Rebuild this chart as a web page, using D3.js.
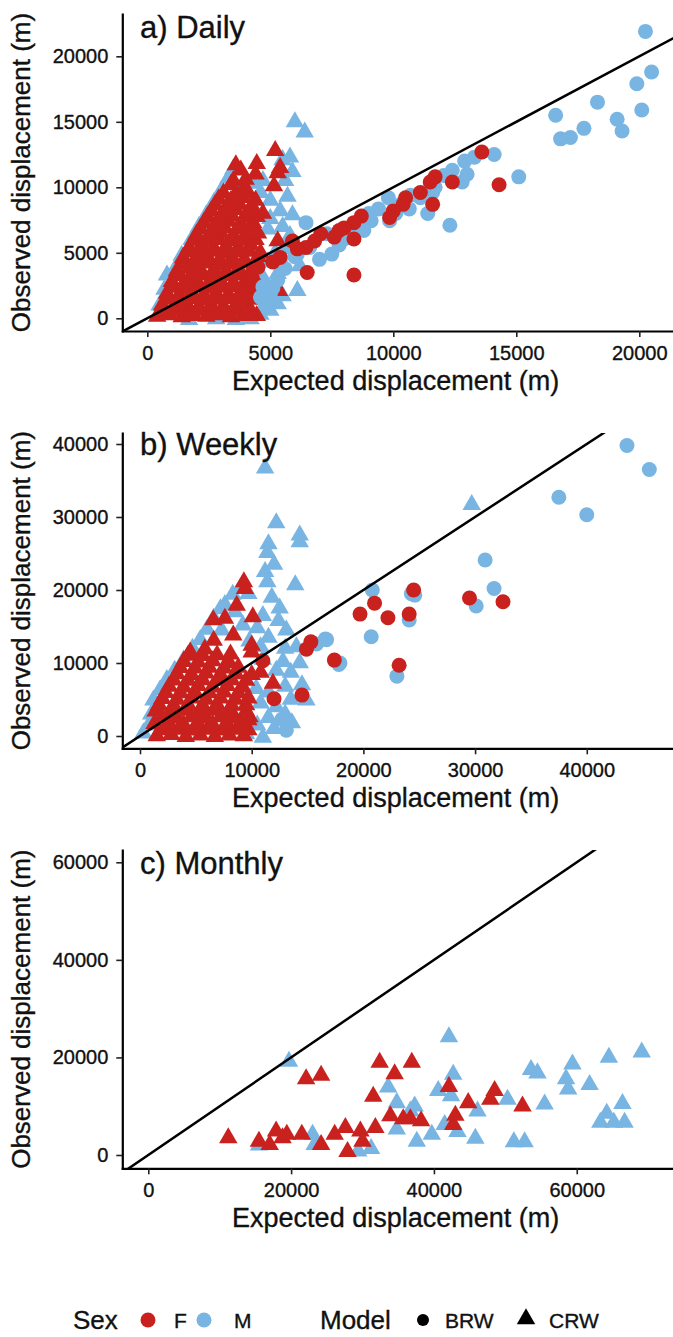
<!DOCTYPE html>
<html lang="en">
<head>
<meta charset="UTF-8">
<title>Observed vs expected displacement</title>
<script src="https://cdnjs.cloudflare.com/ajax/libs/d3/7.8.5/d3.min.js"></script>
<style>
  body { margin: 0; background: #fff; }
  text { font-family: "Liberation Sans", Arial, Helvetica, sans-serif; fill: #111; stroke: #111; stroke-width: 0.35px; }
</style>
</head>
<body>
<script>
// ---- tick labels ----
var dailyTicks = [0, 5000, 10000, 15000, 20000];
var weeklyTicks = [0, 10000, 20000, 30000, 40000];
var monthlyTicks = [0, 20000, 40000, 60000];

// ---- a) Daily, [expected, observed] in metres ----
var dailyF_BRW = [[13600,12700],[14300,10200],[12400,10400],[11700,10800],[11600,8700],[11100,9600],[10500,9200],
  [10400,8700],[10000,8200],[9850,7700],[8700,7800],[8400,7300],[8000,6900],[7800,6700],[8400,6050],[8400,3300],
  [7050,6450],[6800,5900],[6450,5400],[6100,5300],[6500,3500],[5400,4650],[5100,4300],[4500,3900],[5900,5900],
  [11500,10400],[7600,6200]];
var dailyM_BRW = [[20250,21900],[20500,18800],[19900,17900],[20100,15900],[19100,15200],[19300,14300],[18300,16500],
  [17750,14500],[17200,13800],[16800,13700],[16600,15500],[15100,10800],[14100,12500],[13300,12300],[12900,12000],
  [12800,10400],[13000,11000],[12300,7100],[12400,11300],[12050,10900],[11700,10000],[11400,8000],[11100,9200],
  [10650,8350],[10300,8700],[9850,7450],[9800,9200],[9400,8350],[9100,7450],[8800,6700],[8400,6300],[8000,6050],
  [7300,6450],[7500,4900],[7000,4500],[6450,7300],[6100,4900],[5400,4400],[6600,5400],[4700,2400],[5000,1800],
  [4800,1000],[5300,2900],[5600,3800],[6000,4700],[5100,2300],[4600,1600],[7800,5600],[8600,7200],[9000,8000],
  [10100,8000],[10700,9400],[11600,9600]];
var dailyF_CRW = [[400,150],[900,250],[1400,100],[1900,200],[2400,150],[2900,250],[3400,100],[3900,200],[4450,200],
  [650,550],[1150,600],[1650,500],[2150,600],[2650,550],[3150,500],[3650,600],[4150,550],
  [600,1000],[1100,900],[1600,1100],[2100,900],[2600,1000],[3100,900],[3600,1050],[4100,950],
  [850,1450],[1350,1400],[1850,1500],[2350,1400],[2850,1450],[3350,1500],[3850,1400],[4350,1450],
  [800,1900],[1300,1800],[1800,2000],[2300,1800],[2800,1900],[3300,1800],[3800,2000],[4300,1850],[5350,2100],
  [1050,2350],[1550,2300],[2050,2400],[2550,2300],[3050,2350],[3550,2400],[4050,2300],[4500,2350],
  [1000,2800],[1500,2700],[2000,2900],[2500,2700],[3000,2800],[3500,2700],[4000,2900],[4450,2700],
  [1250,3250],[1750,3200],[2250,3300],[2750,3200],[3250,3250],[3750,3300],[4250,3200],
  [1200,3600],[1700,3800],[2200,3600],[2700,3700],[3200,3600],[3700,3800],[4200,3600],
  [1450,4150],[1950,4100],[2450,4200],[2950,4100],[3450,4150],[3950,4200],[4400,4100],
  [1450,4600],[1950,4500],[2450,4700],[2950,4500],[3450,4600],[3950,4500],[4500,4700],
  [1650,5050],[2150,5000],[2650,5100],[3150,5000],[3650,5050],[4150,5100],[4600,5000],
  [1700,5400],[2200,5600],[2700,5400],[3200,5500],[3700,5400],[4200,5600],[5300,5900],
  [1900,5950],[2400,5900],[2900,6000],[3400,5900],[3900,5950],[4400,6000],
  [2000,6400],[2500,6300],[3000,6500],[3500,6300],[4000,6400],[4500,6500],
  [2150,6850],[2650,6800],[3150,6900],[3650,6800],[4150,6850],
  [2300,7300],[2800,7200],[3300,7400],[3800,7200],[4300,7300],
  [2450,7750],[2950,7700],[3450,7800],[3950,7700],[4450,7750],
  [2600,8200],[3100,8100],[3600,8300],[4100,8100],[4700,8000],
  [2750,8650],[3250,8600],[3750,8700],[4250,8600],
  [2900,9100],[3400,9000],[3900,9200],[4400,9000],
  [3100,9550],[3600,9500],[4100,9600],
  [3400,10200],[3900,9900],[5150,10100],
  [3500,10500],[4000,10600],
  [3800,11300],[4400,11000],[5300,11100],[3600,11700],
  [4450,11800],[5400,11500],[5200,12800]];
var dailyM_CRW = [[500,1000],[700,2200],[800,3300],[1200,4000],[1400,4800],[1800,6000],[2100,7000],[2400,7900],
  [2700,8800],[3000,9700],[3300,10700],[3500,11400],[3900,10300],[4300,10300],[4700,10500],[4600,9600],[5000,9000],
  [5700,9300],[5600,10500],[5800,12300],[5500,12100],[6000,15000],[6400,14200],[5900,11200],[5400,8200],[5900,7900],
  [5000,7600],[5500,7000],[4900,6800],[5800,6300],[5200,5000],[5600,5300],[4900,4300],[5300,3400],[4700,3100],
  [6100,2100],[5000,600],[4800,1500],[5300,1100],[4600,300],[1700,-100],[2800,-50],[3600,-100],[4200,-50],
  [5500,1700],[6200,4000]];

// ---- b) Weekly ----
var weeklyF_BRW = [[24500,20000],[21000,18200],[19700,16700],[22200,16200],[24100,16700],[29500,18900],[32500,18400],
  [23200,9700],[17400,10400],[15300,12900],[14900,11900],[14500,5600],[12000,5100],[11000,10300]];
var weeklyM_BRW = [[43600,39800],[45600,36500],[37500,32700],[40000,30300],[30900,24100],[31700,20200],[30100,17800],
  [24300,19500],[24100,15900],[20800,20000],[20700,13600],[23000,8200],[17800,9800],[16600,13300],[15800,12600],
  [13100,800],[12700,2300],[16700,13200],[17900,10000],[24600,19300]];
var weeklyF_CRW = [[1500,0],[2800,200],[4100,-100],[5400,100],[6700,-100],[8000,100],[9300,0],
  [2150,850],[3450,900],[4750,800],[6050,900],[7350,800],[8650,900],[9700,850],
  [1300,1700],[2600,1800],[3900,1600],[5200,1800],[6500,1600],[7800,1800],[9100,1700],
  [2000,2550],[3300,2500],[4600,2600],[5900,2500],[7200,2600],[8500,2500],[9800,2600],
  [1400,3400],[2700,3300],[4000,3500],[5300,3300],[6600,3500],[7900,3300],[9500,3400],
  [1700,4250],[3000,4200],[4300,4300],[5600,4200],[6900,4300],[8200,4200],[9500,4250],
  [2000,5100],[3300,5000],[4600,5200],[5900,5000],[7200,5200],[8500,5000],[9700,5200],
  [2300,5950],[3600,5900],[4900,6000],[6200,5900],[7500,6000],[8800,5900],
  [2600,6800],[3900,6700],[5200,6900],[6500,6700],[7800,6900],[9200,6700],
  [3000,7650],[4300,7600],[5600,7700],[6900,7600],[8200,7700],[9500,7600],
  [3300,8500],[4600,8400],[5900,8600],[7200,8400],[8600,8500],[10800,8700],
  [3600,9350],[4900,9300],[6200,9400],[7500,9300],[8800,9400],
  [3900,10200],[5200,10100],[6500,10300],[8000,10000],[10000,11500],
  [4300,11050],[5600,11000],[6900,11100],
  [4500,11500],[5800,11900],[8100,11200],
  [6600,13100],[8350,13800],[6560,15900],[7600,16100],[10100,16300],[8660,17900],[9400,20200],[9300,21100],
  [11900,7200],[9700,2200],[10000,8400],[10000,12400]];
var weeklyM_CRW = [[300,400],[800,1500],[1000,3000],[1200,4900],[1800,6300],[2400,7700],[3100,9000],[3900,10400],
  [4700,12000],[5400,13200],[6000,14600],[6600,16100],[7200,17400],[7600,18000],[8300,19400],[9000,20300],
  [8500,17000],[7300,14500],[9200,15200],[9700,19500],
  [11200,36700],[12200,29200],[14300,27500],[11500,26300],[11400,25100],[11200,22500],[11400,21100],[13900,20700],
  [12000,23500],[11800,19000],[12500,17500],[11000,16500],[13100,14500],[12400,15800],[14000,12200],[13000,12000],
  [11500,13500],[10500,14800],[14300,10000],[12800,10200],[11000,10500],[10800,12200],[13500,8700],[12200,9000],
  [14500,7000],[13000,6800],[11500,6000],[14900,4900],[13500,5000],[12200,4000],[10800,4500],[13000,3000],
  [11500,2500],[10500,1500],[12000,1000],[13600,1800],[10400,6500],[9800,13000],[9500,300],[11000,-200],
  [29700,31700],[14300,26600]];

// ---- c) Monthly (CRW only) ----
var monthlyF_CRW = [[11200,3500],[15500,2800],[17000,2100],[17900,4900],[18800,3500],[19400,4200],[21500,4200],
  [22100,15600],[24200,16300],[24200,2100],[26100,4200],[27600,5600],[27900,700],[29700,4900],[30000,2800],
  [31800,5600],[31500,12000],[32400,19000],[33900,8000],[34500,16600],[35700,7400],[36900,19000],[36700,7400],
  [38200,7000],[42100,14000],[42700,6200],[43000,8100],[44800,10700],[47900,11400],[48500,13200],[52400,10000]];
var monthlyM_CRW = [[19700,19200],[15500,2000],[23000,4200],[23300,2100],[29400,800],[31200,1300],[33600,13900],
  [34800,10700],[34800,5300],[37300,10000],[37600,2800],[39700,4200],[41500,6200],[42100,24200],[42700,16500],
  [42400,12100],[43300,4800],[45800,3400],[46100,9000],[50300,11400],[51200,2700],[52700,2700],[53600,17500],
  [54500,16800],[55500,10400],[58500,15600],[58800,13500],[59400,18600],[61800,14400],[63300,6700],[64500,20000],
  [64200,8500],[65200,6700],[66400,10500],[66700,6700],[69100,21100],[40600,13200],[36700,9000]];

var RED = "#c8211e", BLUE = "#78b5e3";
var W = 673, H = 1337;

var svg = d3.select("body").append("svg")
    .attr("width", W)
    .attr("height", H)
    .style("background", "#fff");

var panels = [
  { id: "a", title: "a) Daily", titleY: 38, box: {l: 122.3, r: 673, t: 14, b: 331},
    xDom: [-1016, 21370], yDom: [-970, 23230], xTicks: dailyTicks, yTicks: dailyTicks,
    layers: [[dailyM_CRW, BLUE, "tri"], [dailyF_CRW, RED, "tri"], [dailyM_BRW, BLUE, "circ"], [dailyF_BRW, RED, "circ"]] },
  { id: "b", title: "b) Weekly", titleY: 455, box: {l: 122.3, r: 673, t: 433, b: 748.3},
    xDom: [-1585, 47720], yDom: [-1685, 41507], xTicks: weeklyTicks, yTicks: weeklyTicks,
    layers: [[weeklyM_CRW, BLUE, "tri"], [weeklyF_CRW, RED, "tri"], [weeklyM_BRW, BLUE, "circ"], [weeklyF_BRW, RED, "circ"]] },
  { id: "c", title: "c) Monthly", titleY: 874, box: {l: 122.3, r: 673, t: 850, b: 1168.3},
    xDom: [-3640, 73480], yDom: [-2727, 62520], xTicks: monthlyTicks, yTicks: monthlyTicks,
    layers: [[monthlyM_CRW, BLUE, "tri"], [monthlyF_CRW, RED, "tri"]] }
];

var tri = d3.symbol().type(d3.symbolTriangle).size(148);

panels.forEach(function(p) {
  var b = p.box;
  var x = d3.scaleLinear().domain(p.xDom).range([b.l, b.r]);
  var y = d3.scaleLinear().domain(p.yDom).range([b.b, b.t]);

  // clip region = panel
  svg.append("clipPath").attr("id", "clip-" + p.id)
    .append("rect")
    .attr("x", b.l).attr("y", b.t)
    .attr("width", b.r - b.l).attr("height", b.b - b.t);

  var g = svg.append("g").attr("clip-path", "url(#clip-" + p.id + ")");

  p.layers.forEach(function(layer) {
    var pts = layer[0], col = layer[1], shape = layer[2];
    if (shape === "circ") {
      g.selectAll(null).data(pts).enter().append("circle")
        .attr("cx", function(d) { return x(d[0]); })
        .attr("cy", function(d) { return y(d[1]); })
        .attr("r", 7.5)
        .attr("fill", col);
    } else {
      g.selectAll(null).data(pts).enter().append("path")
        .attr("d", tri)
        .attr("transform", function(d) { return "translate(" + x(d[0]) + "," + y(d[1]) + ")"; })
        .attr("fill", col);
    }
  });

  // 1:1 line
  var lo = Math.min(p.xDom[0], p.yDom[0]), hi = Math.max(p.xDom[1], p.yDom[1]);
  g.append("line")
    .attr("x1", x(lo)).attr("y1", y(lo))
    .attr("x2", x(hi)).attr("y2", y(hi))
    .attr("stroke", "#000").attr("stroke-width", 2.5);

  // axes
  var xAxis = d3.axisBottom(x).tickValues(p.xTicks).tickSize(6).tickSizeOuter(0).tickPadding(9).tickFormat(d3.format("d"));
  var yAxis = d3.axisLeft(y).tickValues(p.yTicks).tickSize(6).tickSizeOuter(0).tickPadding(8).tickFormat(d3.format("d"));

  var gx = svg.append("g").attr("transform", "translate(0," + b.b + ")").call(xAxis);
  var gy = svg.append("g").attr("transform", "translate(" + b.l + ",0)").call(yAxis);
  [gx, gy].forEach(function(ax) {
    ax.select(".domain").attr("stroke", "#000").attr("stroke-width", 2.2).attr("stroke-linecap", "square");
    ax.selectAll(".tick line").attr("stroke", "#222").attr("stroke-width", 1.6);
    ax.selectAll(".tick text").attr("fill", "#111").style("font-size", "20px")
      .style("font-family", "'Liberation Sans', Arial, sans-serif");
  });

  // titles
  svg.append("text").attr("x", 140).attr("y", p.titleY)
    .text(p.title).style("font-size", "31px");
  svg.append("text")
    .attr("x", (b.l + b.r) / 2 - 2).attr("y", b.b + 59)
    .attr("text-anchor", "middle")
    .text("Expected displacement (m)").style("font-size", "27px");
  svg.append("text")
    .attr("transform", "translate(30," + ((b.t + b.b) / 2) + ") rotate(-90)")
    .attr("text-anchor", "middle")
    .text("Observed displacement (m)").style("font-size", "26px");
});

// ---- legend ----
var leg = svg.append("g");
var ly = 1320;
leg.append("text").attr("x", 73).attr("y", ly + 9).text("Sex").style("font-size", "26px");
leg.append("circle").attr("cx", 148).attr("cy", ly).attr("r", 7.5).attr("fill", RED);
leg.append("text").attr("x", 174).attr("y", ly + 8).text("F").style("font-size", "21px");
leg.append("circle").attr("cx", 204).attr("cy", ly).attr("r", 7.5).attr("fill", BLUE);
leg.append("text").attr("x", 234).attr("y", ly + 8).text("M").style("font-size", "21px");
leg.append("text").attr("x", 320).attr("y", ly + 9).text("Model").style("font-size", "26px");
leg.append("circle").attr("cx", 423).attr("cy", ly).attr("r", 6).attr("fill", "#000");
leg.append("text").attr("x", 445).attr("y", ly + 8).text("BRW").style("font-size", "21px");
leg.append("path").attr("d", tri).attr("transform", "translate(526," + (ly - 1) + ")").attr("fill", "#000");
leg.append("text").attr("x", 549).attr("y", ly + 8).text("CRW").style("font-size", "21px");
</script>
</body>
</html>
